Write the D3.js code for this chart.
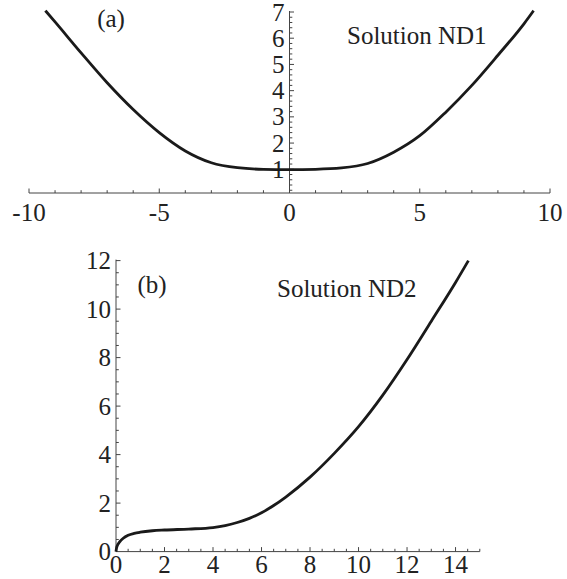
<!DOCTYPE html>
<html>
<head>
<meta charset="utf-8">
<script src="https://cdn.jsdelivr.net/npm/d3@7"></script>
<style>
  body { margin: 0; background: #fff; }
  text { font-family: "Liberation Serif", "Times New Roman", serif; fill: #222; }
</style>
</head>
<body>
<div id="chart-area"></div>
<script>
const W = 567
const H = 579
const FONT = 25

// Solution ND1 (panel a)
const nd1X = [-9.37, -9, -8, -7, -6, -5, -4, -3, -2, -1, 0, 1, 2, 3, 4, 5, 6, 7, 8, 9, 9.37]
const nd1Y = [7.05, 6.62, 5.44, 4.3, 3.28, 2.4, 1.7, 1.25, 1.06, 1.0, 0.99, 1.0, 1.05, 1.22, 1.65, 2.28, 3.18, 4.2, 5.35, 6.55, 7.05]

// Solution ND2 (panel b)
const nd2X = [0, 0.02, 0.06, 0.15, 0.3, 0.5, 0.75, 1, 1.5, 2, 3, 4, 4.5, 5, 5.5, 6, 6.5, 7, 8, 9, 10, 11, 12, 13, 14, 14.53]
const nd2Y = [0, 0.14, 0.26, 0.4, 0.55, 0.67, 0.75, 0.8, 0.86, 0.89, 0.93, 0.99, 1.07, 1.2, 1.37, 1.6, 1.9, 2.25, 3.07, 4.05, 5.15, 6.45, 7.92, 9.5, 11.1, 12]

const aTicksX = [-10, -5, 0, 5, 10]
const aTicksY = [1, 2, 3, 4, 5, 6, 7]
const bTicksX = [0, 2, 4, 6, 8, 10, 12, 14]
const bTicksY = [0, 2, 4, 6, 8, 10, 12]

const svg = d3.select("#chart-area").append("svg")
	.attr("width", W)
	.attr("height", H)

// ---------- panel (a) ----------
const xa = d3.scaleLinear().domain([-10, 10]).range([29, 550])
const ya = d3.scaleLinear().domain([0, 7]).range([195.5, 12])
const axisYa = 193   // horizontal axis sits a touch above y = 0

const ga = svg.append("g")

// x axis line + ticks (pointing up)
ga.append("line")
	.attr("x1", xa(-10)).attr("x2", xa(10))
	.attr("y1", axisYa).attr("y2", axisYa)
	.attr("stroke", "#444")
ga.selectAll(".xa-tick")
	.data(d3.range(-10, 11))
	.enter().append("line")
	.attr("x1", d => xa(d)).attr("x2", d => xa(d))
	.attr("y1", axisYa)
	.attr("y2", d => axisYa - (d % 5 === 0 ? 4.5 : 2.8))
	.attr("stroke", "#444")
ga.selectAll(".xa-label")
	.data(aTicksX)
	.enter().append("text")
	.attr("x", d => xa(d))
	.attr("y", 221)
	.attr("font-size", FONT)
	.attr("text-anchor", "middle")
	.text(d => d)

// y axis line + ticks (pointing right)
ga.append("line")
	.attr("x1", xa(0)).attr("x2", xa(0))
	.attr("y1", axisYa).attr("y2", ya(7) - 1)
	.attr("stroke", "#444")
ga.selectAll(".ya-tick")
	.data(d3.range(1, 36).map(i => i / 5))
	.enter().append("line")
	.attr("x1", xa(0))
	.attr("x2", d => xa(0) + (Math.abs(d - Math.round(d)) < 1e-6 ? 4.5 : 2.8))
	.attr("y1", d => ya(d)).attr("y2", d => ya(d))
	.attr("stroke", "#444")
ga.selectAll(".ya-label")
	.data(aTicksY)
	.enter().append("text")
	.attr("x", xa(0) - 5)
	.attr("y", d => ya(d))
	.attr("dy", "0.34em")
	.attr("font-size", FONT)
	.attr("text-anchor", "end")
	.text(d => d)

const lineA = d3.line()
	.x(d => xa(d[0]))
	.y(d => ya(d[1]))
	.curve(d3.curveMonotoneX)
ga.append("path")
	.datum(d3.zip(nd1X, nd1Y))
	.attr("d", lineA)
	.attr("fill", "none")
	.attr("stroke", "#1a1a1a")
	.attr("stroke-width", 2.8)

ga.append("text")
	.attr("x", 111).attr("y", 27)
	.attr("font-size", FONT)
	.attr("text-anchor", "middle")
	.text("(a)")
ga.append("text")
	.attr("x", 347).attr("y", 44)
	.attr("font-size", FONT)
	.text("Solution ND1")

// ---------- panel (b) ----------
const xb = d3.scaleLinear().domain([0, 15]).range([116, 479.8])
const yb = d3.scaleLinear().domain([0, 12]).range([551.6, 260.6])

const gb = svg.append("g")

gb.append("line")
	.attr("x1", xb(0)).attr("x2", xb(15))
	.attr("y1", yb(0)).attr("y2", yb(0))
	.attr("stroke", "#444")
gb.selectAll(".xb-tick")
	.data(d3.range(1, 31).map(i => i / 2))
	.enter().append("line")
	.attr("x1", d => xb(d)).attr("x2", d => xb(d))
	.attr("y1", yb(0))
	.attr("y2", d => yb(0) - (d % 2 === 0 ? 4.5 : 2.8))
	.attr("stroke", "#444")
gb.selectAll(".xb-label")
	.data(bTicksX)
	.enter().append("text")
	.attr("x", d => xb(d))
	.attr("y", 573)
	.attr("font-size", FONT)
	.attr("text-anchor", "middle")
	.text(d => d)

gb.append("line")
	.attr("x1", xb(0)).attr("x2", xb(0))
	.attr("y1", yb(0)).attr("y2", yb(12) - 1)
	.attr("stroke", "#444")
gb.selectAll(".yb-tick")
	.data(d3.range(1, 25).map(i => i / 2))
	.enter().append("line")
	.attr("x1", xb(0))
	.attr("x2", d => xb(0) + (d % 2 === 0 ? 4.5 : 2.8))
	.attr("y1", d => yb(d)).attr("y2", d => yb(d))
	.attr("stroke", "#444")
gb.selectAll(".yb-label")
	.data(bTicksY)
	.enter().append("text")
	.attr("x", xb(0) - 5)
	.attr("y", d => yb(d))
	.attr("dy", "0.34em")
	.attr("font-size", FONT)
	.attr("text-anchor", "end")
	.text(d => d)

const lineB = d3.line()
	.x(d => xb(d[0]))
	.y(d => yb(d[1]))
	.curve(d3.curveMonotoneX)
gb.append("path")
	.datum(d3.zip(nd2X, nd2Y))
	.attr("d", lineB)
	.attr("fill", "none")
	.attr("stroke", "#1a1a1a")
	.attr("stroke-width", 2.8)

gb.append("text")
	.attr("x", 152).attr("y", 293)
	.attr("font-size", FONT)
	.attr("text-anchor", "middle")
	.text("(b)")
gb.append("text")
	.attr("x", 277).attr("y", 297)
	.attr("font-size", FONT)
	.text("Solution ND2")
</script>
</body>
</html>
